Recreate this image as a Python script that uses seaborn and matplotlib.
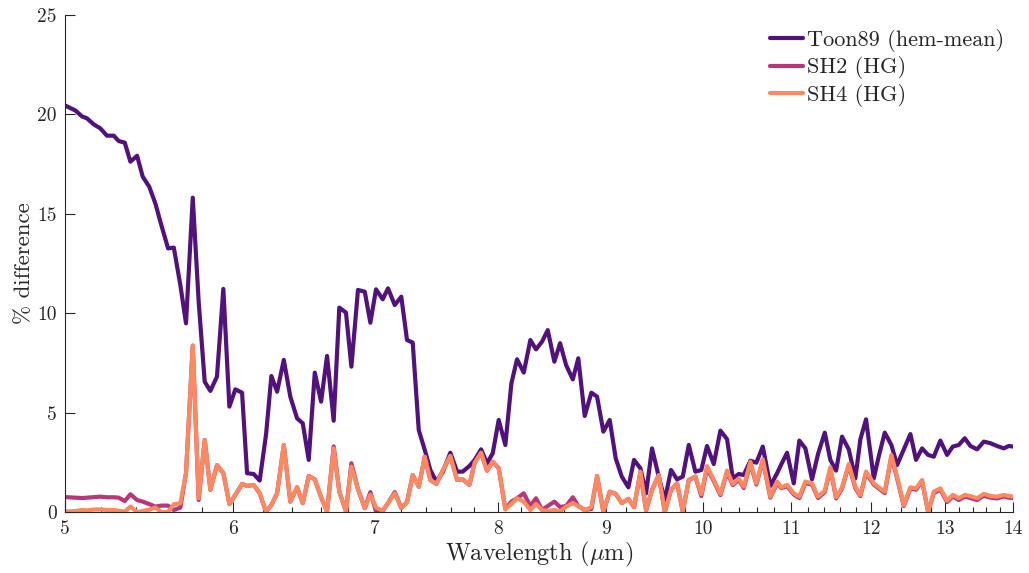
import numpy as np
import pandas as pd
import seaborn as sns
import matplotlib
matplotlib.use("Agg")
import matplotlib.pyplot as plt
from matplotlib.ticker import FixedLocator, FixedFormatter, NullFormatter

# ---------------- data ----------------
wavelength = [5.000, 5.056, 5.093, 5.121, 5.158, 5.195, 5.233, 5.272, 5.300, 5.335,
              5.368, 5.407, 5.440, 5.479, 5.515, 5.551, 5.592, 5.627, 5.667, 5.702,
              5.744, 5.781, 5.819, 5.855, 5.897, 5.938, 5.977, 6.016, 6.060, 6.093,
              6.137, 6.177, 6.220, 6.256, 6.295, 6.341, 6.386, 6.433, 6.473, 6.515,
              6.558, 6.603, 6.646, 6.694, 6.735, 6.784, 6.824, 6.873, 6.924, 6.966,
              7.009, 7.060, 7.101, 7.153, 7.204, 7.249, 7.294, 7.342, 7.390, 7.435,
              7.484, 7.538, 7.598, 7.654, 7.701, 7.757, 7.802, 7.856, 7.907, 7.956,
              8.008, 8.066, 8.119, 8.169, 8.229, 8.288, 8.339, 8.394, 8.446, 8.507,
              8.560, 8.616, 8.679, 8.731, 8.792, 8.856, 8.911, 8.972, 9.034, 9.093,
              9.153, 9.219, 9.276, 9.340, 9.398, 9.459, 9.528, 9.591, 9.656, 9.720,
              9.780, 9.844, 9.915, 9.979, 10.041, 10.115, 10.188, 10.262, 10.326, 10.393,
              10.450, 10.525, 10.594, 10.668, 10.756, 10.835, 10.885, 10.953, 11.033, 11.100,
              11.173, 11.254, 11.328, 11.411, 11.480, 11.552, 11.627, 11.712, 11.796, 11.861,
              11.934, 12.035, 12.100, 12.179, 12.267, 12.343, 12.433, 12.523, 12.600, 12.683,
              12.766, 12.845, 12.937, 13.032, 13.113, 13.198, 13.285, 13.366, 13.463, 13.562,
              13.659, 13.759, 13.860, 13.935, 14.000]

toon89 = [20.45, 20.20, 19.90, 19.80, 19.50, 19.30, 18.93, 18.93, 18.66, 18.58,
          17.62, 17.92, 16.87, 16.36, 15.53, 14.44, 13.26, 13.30, 11.42, 9.49,
          15.81, 10.58, 6.55, 6.09, 6.81, 11.22, 5.30, 6.17, 6.00, 1.95,
          1.91, 1.58, 3.90, 6.84, 6.05, 7.65, 5.80, 4.71, 4.46, 2.62,
          7.01, 5.55, 7.85, 4.59, 10.28, 10.03, 7.31, 11.17, 11.08, 9.52,
          11.20, 10.70, 11.25, 10.41, 10.83, 8.65, 8.52, 4.12, 3.12, 2.11,
          1.53, 2.03, 2.98, 2.03, 2.03, 2.31, 2.62, 3.15, 2.45, 2.95,
          4.63, 3.37, 6.47, 7.68, 7.01, 8.65, 8.18, 8.57, 9.15, 7.56,
          8.49, 7.39, 6.67, 7.73, 4.83, 6.00, 5.80, 4.04, 4.63, 2.70,
          1.78, 1.24, 2.62, 2.20, 0.94, 3.20, 1.78, 0.60, 2.11, 1.64,
          1.78, 3.37, 2.03, 2.11, 3.32, 2.41, 4.09, 3.66, 1.69, 1.91,
          1.86, 2.58, 2.48, 3.29, 1.31, 1.95, 2.40, 2.98, 1.44, 3.59,
          3.20, 1.64, 2.92, 3.99, 2.62, 2.08, 3.79, 3.15, 1.69, 3.66,
          4.66, 1.69, 2.80, 3.99, 3.37, 2.36, 3.14, 3.92, 2.62, 3.20,
          2.87, 2.78, 3.59, 2.87, 3.29, 3.37, 3.71, 3.32, 3.15, 3.54,
          3.46, 3.32, 3.20, 3.32, 3.29]

sh2 = [0.75, 0.72, 0.70, 0.72, 0.75, 0.77, 0.74, 0.74, 0.72, 0.55,
       0.89, 0.60, 0.52, 0.40, 0.27, 0.32, 0.32, 0.10, 0.22, 1.95,
       8.37, 0.60, 3.62, 1.11, 2.36, 1.95, 0.40, 0.86, 1.41, 1.31,
       1.36, 0.94, 0.00, 0.35, 0.94, 3.37, 0.52, 1.24, 0.44, 1.81,
       1.64, 0.74, 0.02, 3.30, 1.02, 0.02, 2.45, 1.14, 0.19, 1.00,
       0.02, 0.05, 0.45, 1.00, 0.20, 0.50, 1.86, 1.27, 2.78, 1.61,
       1.41, 2.11, 2.82, 1.61, 1.64, 1.36, 2.48, 2.98, 2.08, 2.53,
       2.20, 0.14, 0.52, 0.69, 0.94, 0.30, 0.69, 0.10, 0.30, 0.52,
       0.25, 0.30, 0.74, 0.30, 0.10, 0.15, 1.81, 0.00, 1.02, 0.91,
       0.45, 0.66, 0.24, 2.00, 0.07, 1.11, 1.86, 0.00, 1.11, 1.44,
       0.02, 1.61, 1.78, 0.80, 2.20, 1.55, 0.85, 2.00, 1.35, 1.62,
       1.20, 2.45, 1.38, 2.60, 0.72, 1.45, 1.20, 1.30, 0.88, 0.70,
       1.45, 1.38, 0.70, 1.00, 2.18, 0.68, 1.18, 2.35, 1.20, 0.80,
       1.95, 1.38, 1.18, 0.95, 2.80, 1.70, 0.30, 1.18, 1.12, 1.55,
       0.00, 0.95, 1.12, 0.50, 0.78, 0.60, 0.78, 0.70, 0.60, 0.82,
       0.72, 0.68, 0.78, 0.72, 0.70]

sh4 = [0.02, 0.05, 0.10, 0.08, 0.12, 0.13, 0.10, 0.10, 0.06, 0.02,
       0.27, 0.00, 0.05, 0.12, 0.22, 0.00, 0.00, 0.39, 0.44, 1.95,
       8.37, 0.69, 3.62, 1.11, 2.36, 1.95, 0.40, 0.86, 1.41, 1.31,
       1.36, 0.94, 0.00, 0.35, 0.94, 3.37, 0.52, 1.24, 0.44, 1.81,
       1.64, 0.74, 0.02, 3.20, 1.02, 0.02, 2.28, 1.14, 0.19, 0.86,
       0.22, 0.07, 0.45, 0.94, 0.20, 0.47, 1.86, 1.27, 2.78, 1.61,
       1.41, 2.11, 2.82, 1.61, 1.64, 1.36, 2.48, 2.98, 2.08, 2.53,
       2.20, 0.14, 0.40, 0.69, 0.52, 0.10, 0.40, 0.10, 0.05, 0.10,
       0.02, 0.27, 0.44, 0.30, 0.08, 0.25, 1.81, 0.00, 1.02, 0.91,
       0.45, 0.66, 0.24, 2.03, 0.07, 1.11, 1.86, 0.00, 1.11, 1.44,
       0.02, 1.61, 1.78, 0.90, 2.31, 1.61, 0.91, 2.08, 1.41, 1.69,
       1.27, 2.53, 1.44, 2.65, 0.77, 1.53, 1.24, 1.36, 0.94, 0.77,
       1.53, 1.44, 0.77, 1.07, 2.25, 0.74, 1.24, 2.41, 1.27, 0.86,
       2.03, 1.44, 1.24, 1.02, 2.87, 1.78, 0.35, 1.24, 1.19, 1.61,
       0.00, 1.02, 1.19, 0.57, 0.86, 0.69, 0.86, 0.80, 0.69, 0.91,
       0.80, 0.77, 0.86, 0.80, 0.77]

series_names = ["Toon89 (hem-mean)", "SH2 (HG)", "SH4 (HG)"]
x_ticks = [5, 6, 7, 8, 9, 10, 11, 12, 13, 14]
x_tick_labels = ["5", "6", "7", "8", "9", "10", "11", "12", "13", "14"]
x_minor_ticks = [round(5 + 0.2 * k, 1) for k in range(46)]
y_ticks = [0, 5, 10, 15, 20, 25]
y_tick_labels = ["0", "5", "10", "15", "20", "25"]

# ---------------- build long table ----------------
n = len(wavelength)
df = pd.DataFrame({
    "wl": wavelength * 3,
    "val": toon89 + sh2 + sh4,
    "series": [series_names[0]] * n + [series_names[1]] * n + [series_names[2]] * n,
})

# ---------------- style ----------------
sns.set_theme(style="ticks")
plt.rcParams.update({
    "font.family": ["cmr10", "DejaVu Serif"],
    "mathtext.fontset": "cm",
    "axes.formatter.use_mathtext": True,
    "axes.unicode_minus": False,
})

axis_color = "#262626"
palette = sns.color_palette("magma", 3)

fig = plt.figure(figsize=(10.29, 5.73), dpi=100)
ax = fig.add_axes([0.0632, 0.1065, 0.9213, 0.8673])

sns.lineplot(data=df, x="wl", y="val", hue="series", hue_order=series_names,
             palette=palette, linewidth=3.0, estimator=None, sort=False,
             ax=ax, legend=True)

ax.set_xscale("log")
ax.set_xlim(5, 14)
ax.set_ylim(0, 25)
ax.xaxis.set_major_locator(FixedLocator(x_ticks))
ax.xaxis.set_major_formatter(FixedFormatter(x_tick_labels))
ax.xaxis.set_minor_locator(FixedLocator(x_minor_ticks))
ax.xaxis.set_minor_formatter(NullFormatter())
ax.yaxis.set_major_locator(FixedLocator(y_ticks))
ax.yaxis.set_major_formatter(FixedFormatter(y_tick_labels))

ax.tick_params(which="major", direction="in", length=7, width=0.8,
               color=axis_color, labelcolor=axis_color, labelsize=14, pad=6)
ax.tick_params(which="minor", direction="in", length=3.5, width=0.8, color=axis_color)
for s in ["top", "right"]:
    ax.spines[s].set_visible(False)
for s in ["left", "bottom"]:
    ax.spines[s].set_color(axis_color)
    ax.spines[s].set_linewidth(0.8)

ax.set_xlabel(r"Wavelength ($\mu$m)", fontsize=17.5, color=axis_color, labelpad=1)
ax.set_ylabel("% difference", fontsize=16.5, color=axis_color, labelpad=2)

handles, labels = ax.get_legend_handles_labels()
leg = ax.legend(handles, labels, loc="upper right", frameon=False, fontsize=16,
                handlelength=1.45, handletextpad=0.2, labelspacing=0.2,
                borderaxespad=0.0, bbox_to_anchor=(1.0, 0.99))
for t in leg.get_texts():
    t.set_color(axis_color)
for h in leg.get_lines():
    h.set_linewidth(3.0)

fig.savefig("out.png", dpi=100)
